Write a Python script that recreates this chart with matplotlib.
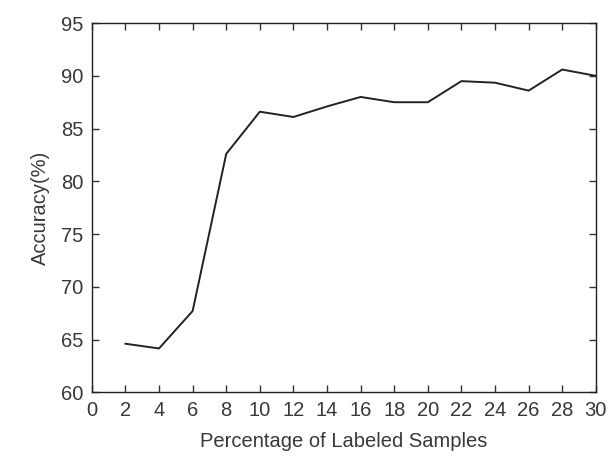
import matplotlib
matplotlib.use('Agg')
from matplotlib import pyplot as pl

pl.rcParams['font.family'] = ['Liberation Sans', 'DejaVu Sans']

percent = [2, 4, 6, 8, 10, 12, 14, 16, 18, 20, 22, 24, 26, 28, 30]
accuracy = [64.6, 64.15, 67.7, 82.6, 86.6, 86.1, 87.1, 88.0, 87.5, 87.5,
            89.5, 89.35, 88.6, 90.6, 90.0]

fig = pl.figure(figsize=(6.08, 4.72), dpi=100)
ax = fig.add_axes([0.151, 0.169, 0.829, 0.782])

ax.plot(percent, accuracy, color='#222222', linewidth=1.4)

ax.set_xlim(0, 30)
ax.set_ylim(60, 95)
ax.set_xticks(range(0, 31, 2))
ax.set_yticks(range(60, 96, 5))
ax.tick_params(direction='in', top=True, right=True, length=5, width=1,
               labelsize=14.5, labelcolor='#383838', color='#333333', pad=6)
for s in ax.spines.values():
    s.set_color('#222222')
    s.set_linewidth(1)

ax.set_xlabel('Percentage of Labeled Samples', fontsize=14.5, color='#383838', labelpad=9)
ax.set_ylabel('Accuracy(%)', fontsize=14.5, color='#383838', labelpad=8)

fig.savefig('out.png', dpi=100)
